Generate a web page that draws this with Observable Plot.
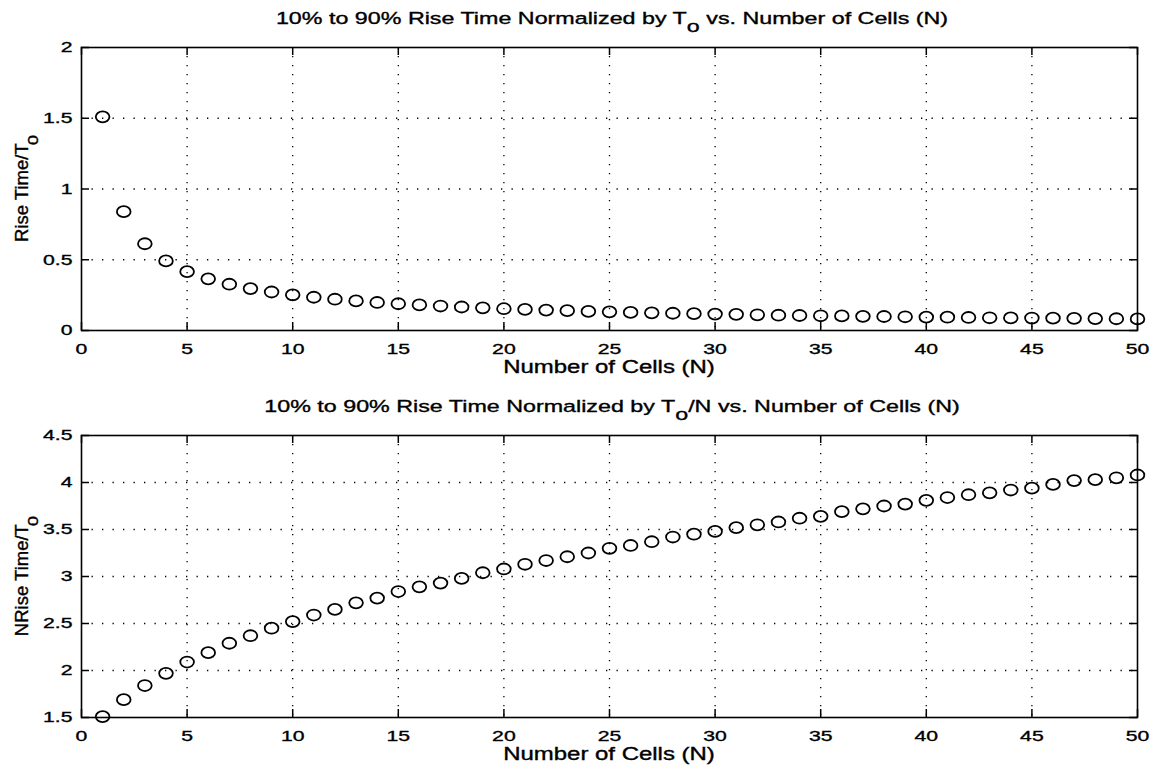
<!DOCTYPE html>
<html>
<head>
<meta charset="utf-8">
<script src="https://cdn.jsdelivr.net/npm/d3@7"></script>
<script src="https://cdn.jsdelivr.net/npm/@observablehq/plot@0.6"></script>
<style>
  html, body { margin: 0; padding: 0; background: #ffffff; }
  #chart { position: relative; width: 1159px; height: 772px; overflow: hidden; background: #ffffff; }
  #chart svg { position: absolute; left: 0; }
  #chart svg text { stroke: #000; stroke-width: 0.35px; }
</style>
</head>
<body>
<div id="chart"></div>
<script>
// ---- data ----
const cells = [1,2,3,4,5,6,7,8,9,10,11,12,13,14,15,16,17,18,19,20,21,22,23,24,25,
               26,27,28,29,30,31,32,33,34,35,36,37,38,39,40,41,42,43,44,45,46,47,48,49,50];
const riseTimeOverTo = [1.51,0.84,0.613,0.492,0.416,0.365,0.327,0.296,0.272,0.252,
                        0.235,0.221,0.209,0.198,0.189,0.181,0.173,0.166,0.16,0.154,
                        0.149,0.144,0.14,0.135,0.132,0.128,0.125,0.122,0.119,0.116,
                        0.114,0.111,0.108,0.106,0.104,0.103,0.1,0.099,0.097,0.095,
                        0.094,0.092,0.09,0.089,0.088,0.087,0.086,0.084,0.083,0.082];
const nRiseTimeOverTo = [1.51,1.69,1.84,1.97,2.09,2.19,2.29,2.37,2.45,2.52,
                         2.59,2.65,2.72,2.77,2.84,2.89,2.93,2.98,3.04,3.08,
                         3.13,3.17,3.21,3.25,3.30,3.33,3.37,3.42,3.45,3.48,
                         3.52,3.55,3.58,3.62,3.64,3.69,3.72,3.75,3.77,3.81,
                         3.84,3.87,3.89,3.92,3.94,3.98,4.02,4.03,4.05,4.08];
const xTicks = [0,5,10,15,20,25,30,35,40,45,50];
const yTicksTop = [0,0.5,1,1.5,2];
const yTicksBottom = [1.5,2,2.5,3,3.5,4,4.5];
const titleTop = ["10% to 90% Rise Time Normalized by T", "o", " vs. Number of Cells (N)"];
const titleBottom = ["10% to 90% Rise Time Normalized by T", "o", "/N vs. Number of Cells (N)"];
const yLabelTop = ["Rise Time/T", "o"];
const yLabelBottom = ["NRise Time/T", "o"];
const xLabel = "Number of Cells (N)";

const FONT = "'Liberation Sans', Arial, Helvetica, sans-serif";
const W = 1159, H = 386, ML = 81, MR = 22;
const STRETCH = 1.37;

// slightly wide open marker, as in the reference
const ellipse = {
  draw(ctx, size) {
    const r = Math.sqrt(size / Math.PI);
    const rx = r * 1.12, ry = r * 0.9, k = 0.5523;
    ctx.moveTo(rx, 0);
    ctx.bezierCurveTo(rx, ry * k, rx * k, ry, 0, ry);
    ctx.bezierCurveTo(-rx * k, ry, -rx, ry * k, -rx, 0);
    ctx.bezierCurveTo(-rx, -ry * k, -rx * k, -ry, 0, -ry);
    ctx.bezierCurveTo(rx * k, -ry, rx, -ry * k, rx, 0);
    ctx.closePath();
  }
};

function panel({values, yDomain, yTicks, marginTop, marginBottom, title, titleBaseline, yLabel, top}) {
  const ph = H - marginTop - marginBottom;
  const pw = W - ML - MR;
  const data = cells.map((n, i) => ({n, v: values[i]}));
  const tickStyle = {stroke: "#000", strokeWidth: 1.5};
  const svg = Plot.plot({
    width: W, height: H,
    marginLeft: ML, marginRight: MR, marginTop, marginBottom,
    style: {fontFamily: FONT, fontSize: "15.5px", color: "#000", background: "transparent", overflow: "visible"},
    x: {type: "linear", domain: [0, 50], axis: null},
    y: {type: "linear", domain: yDomain, axis: null},
    marks: [
      Plot.gridX(xTicks.slice(1, -1), {stroke: "#000", strokeOpacity: 1, strokeWidth: 1.3, strokeDasharray: "1.3,7.7"}),
      Plot.gridY(yTicks.slice(1, -1), {stroke: "#000", strokeOpacity: 1, strokeWidth: 1.3, strokeDasharray: "1.3,9.2"}),
      Plot.tickX(xTicks, {x: d => d, insetTop: ph - 8, ...tickStyle}),
      Plot.tickX(xTicks, {x: d => d, insetBottom: ph - 8, ...tickStyle}),
      Plot.tickY(yTicks, {y: d => d, insetRight: pw - 8, ...tickStyle}),
      Plot.tickY(yTicks, {y: d => d, insetLeft: pw - 8, ...tickStyle}),
      Plot.frame({stroke: "#000", strokeWidth: 1.6}),
      Plot.axisX(xTicks, {tickSize: 0, tickPadding: 12, label: null, tickFormat: d => String(d)}),
      Plot.axisY(yTicks, {tickSize: 0, tickPadding: 9, label: null, tickFormat: d => String(d)}),
      Plot.dot(data, {x: "n", y: "v", r: 6.1, symbol: ellipse, stroke: "#000", strokeWidth: 1.8, fill: "none"})
    ]
  });
  svg.style.top = top + "px";
  const s = d3.select(svg);
  // widen tick labels like the reference's wide lettering
  s.selectAll('g[aria-label$="tick label"] text').each(function() {
    const t = this.getAttribute("transform") || "";
    this.setAttribute("transform", t + ` scale(${STRETCH},1)`);
  });
  const cx = ML + pw / 2;
  // title with subscript
  const t = s.append("text")
    .attr("transform", `translate(${cx + 3},${titleBaseline}) scale(${STRETCH},1)`)
    .attr("text-anchor", "middle").attr("font-size", 17).attr("fill", "#000");
  t.append("tspan").text(title[0]);
  t.append("tspan").attr("dy", 8).text(title[1]);
  t.append("tspan").attr("dy", -8).text(title[2]);
  // x label
  s.append("text")
    .attr("transform", `translate(${cx},${marginTop + ph + 43}) scale(${STRETCH},1)`)
    .attr("text-anchor", "middle").attr("font-size", 17.5).attr("fill", "#000")
    .text(xLabel);
  // y label with subscript
  const yl = s.append("text")
    .attr("transform", `translate(28,${marginTop + ph / 2}) rotate(-90)`)
    .attr("text-anchor", "middle").attr("font-size", 18.5).attr("fill", "#000");
  yl.append("tspan").text(yLabel[0]);
  yl.append("tspan").attr("dy", 10).text(yLabel[1]);
  return svg;
}

const chart = document.getElementById("chart");
chart.appendChild(panel({
  values: riseTimeOverTo, yDomain: [0, 2], yTicks: yTicksTop,
  marginTop: 47, marginBottom: 56, title: titleTop, titleBaseline: 24, yLabel: yLabelTop, top: 0
}));
chart.appendChild(panel({
  values: nRiseTimeOverTo, yDomain: [1.5, 4.5], yTicks: yTicksBottom,
  marginTop: 49, marginBottom: 55, title: titleBottom, titleBaseline: 26, yLabel: yLabelBottom, top: 386
}));
</script>
</body>
</html>
